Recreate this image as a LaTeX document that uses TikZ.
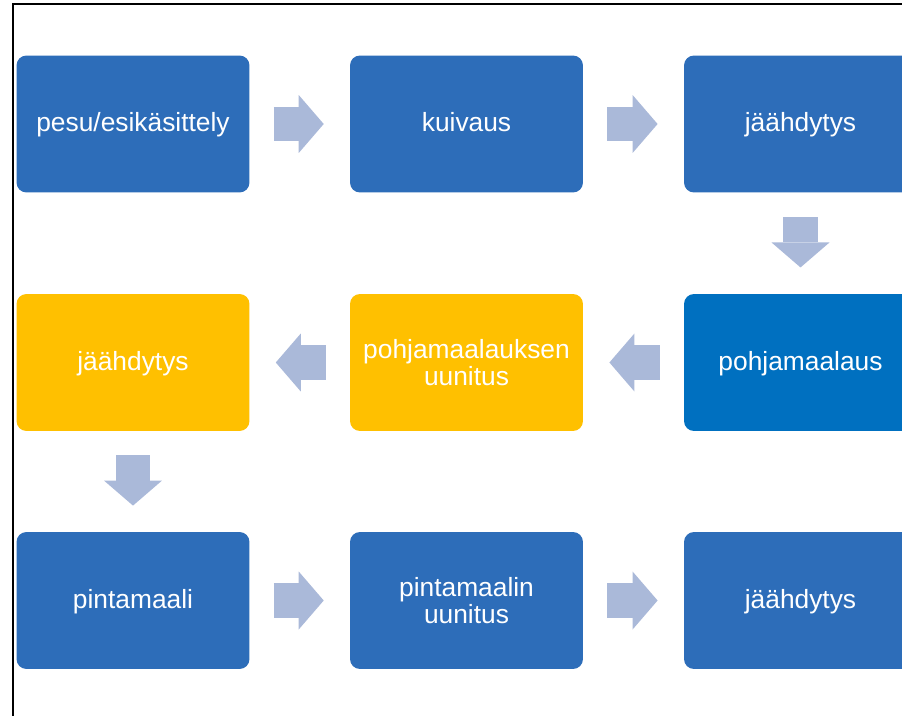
\documentclass[tikz,border=0pt]{standalone}
\usepackage{fontspec}
\setmainfont{Liberation Sans}
\usetikzlibrary{arrows.meta,calc}
\definecolor{stepblue}{HTML}{2D6DB9}
\definecolor{stepdark}{HTML}{0070C0}
\definecolor{stepyellow}{HTML}{FFC000}
\definecolor{flowgrey}{HTML}{AAB9D9}
\tikzset{
    stepbox/.style={rectangle, rounded corners=0.2cm, fill=stepblue, text=white,
        minimum width=4.66cm, minimum height=2.74cm, align=center, inner sep=0pt,
        font=\fontsize{15}{15.5}\selectfont},
    oneline/.style={text height=0.4cm, text depth=0.1cm},
    flowarrow/.style={draw=flowgrey, line width=0.7cm,
        -{Triangle[width=1.16cm, length=0.5cm, line width=0pt]}},
}
\begin{document}
\begin{tikzpicture}[x=0.02cm, y=-0.02cm]
    \useasboundingbox (0, 0) rectangle (902, 716);
    \clip (0, 0) rectangle (902, 716);
    \fill[white] (0, 0) rectangle (902, 716);
    \draw[line width=0.85pt] (13, 4) rectangle (1000, 800);

    \node[stepbox, oneline] (pesu) at (133, 124) {pesu/esikäsittely};
    \node[stepbox, oneline] (kuivaus) at (466.5, 124) {kuivaus};
    \node[stepbox, oneline] (jaah1) at (800.5, 124) {jäähdytys};
    \node[stepbox, oneline, fill=stepdark] (pohja) at (800.5, 362.5) {pohjamaalaus};
    \node[stepbox, fill=stepyellow] (pohjauuni) at (466.5, 362.5) {pohjamaalauksen\\uunitus};
    \node[stepbox, oneline, fill=stepyellow] (jaah2) at (133, 362.5) {jäähdytys};
    \node[stepbox, oneline] (pinta) at (133, 600.5) {pintamaali};
    \node[stepbox] (pintauuni) at (466.5, 600.5) {pintamaalin\\uunitus};
    \node[stepbox, oneline] (jaah3) at (800.5, 600.5) {jäähdytys};

    \draw[flowarrow] ($(pesu.east)!0.24!(kuivaus.west)$) -- ($(pesu.east)!0.74!(kuivaus.west)$);
    \draw[flowarrow] ($(kuivaus.east)!0.24!(jaah1.west)$) -- ($(kuivaus.east)!0.74!(jaah1.west)$);
    \draw[flowarrow] ($(jaah1.south)!0.24!(pohja.north)$) -- ($(jaah1.south)!0.74!(pohja.north)$);
    \draw[flowarrow] ($(pohja.west)!0.24!(pohjauuni.east)$) -- ($(pohja.west)!0.74!(pohjauuni.east)$);
    \draw[flowarrow] ($(pohjauuni.west)!0.24!(jaah2.east)$) -- ($(pohjauuni.west)!0.74!(jaah2.east)$);
    \draw[flowarrow] ($(jaah2.south)!0.24!(pinta.north)$) -- ($(jaah2.south)!0.74!(pinta.north)$);
    \draw[flowarrow] ($(pinta.east)!0.24!(pintauuni.west)$) -- ($(pinta.east)!0.74!(pintauuni.west)$);
    \draw[flowarrow] ($(pintauuni.east)!0.24!(jaah3.west)$) -- ($(pintauuni.east)!0.74!(jaah3.west)$);
\end{tikzpicture}
\end{document}
